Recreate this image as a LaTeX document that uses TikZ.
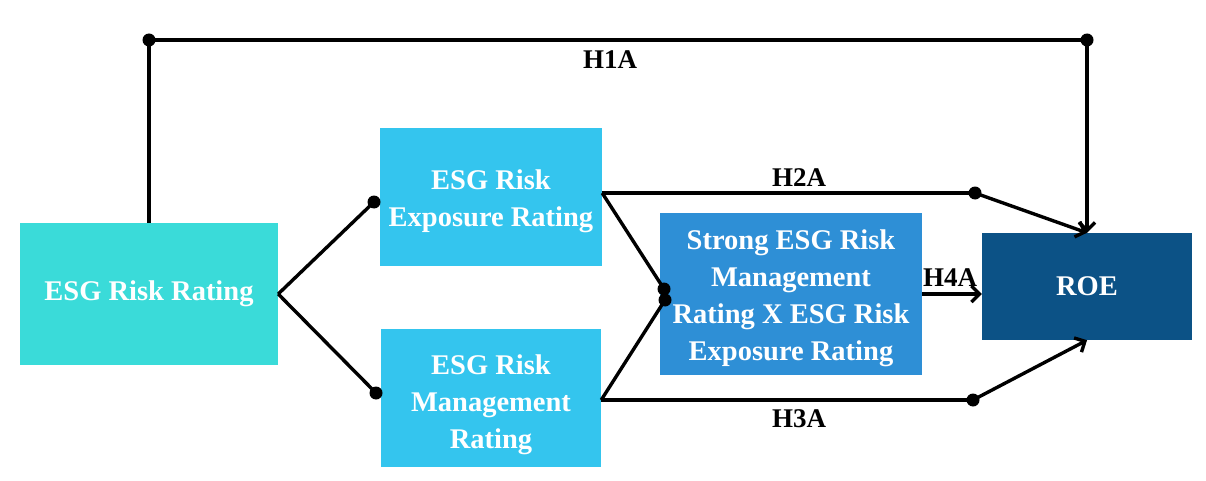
\documentclass[tikz,border=0pt]{standalone}
\usepackage{fontspec}
\setmainfont{Liberation Serif}
\usetikzlibrary{positioning,arrows.meta}
\definecolor{ratingturq}{HTML}{3ADBD9}
\definecolor{ratingsky}{HTML}{34C5EE}
\definecolor{ratingblue}{HTML}{2E8FD6}
\definecolor{roenavy}{HTML}{0C5286}

\begin{document}
\begin{tikzpicture}[x=1pt,y=1pt]
    \tikzstyle{every node}=[inner sep=0,font=\fontsize{28.5}{37}\selectfont\bfseries]
    \tikzstyle{box}=[rectangle,text=white,align=center]
    \tikzstyle{esg}=[box,fill=ratingturq,minimum width=258,minimum height=142]
    \tikzstyle{rate}=[box,fill=ratingsky,minimum width=222,minimum height=138]
    \tikzstyle{mix}=[box,fill=ratingblue,minimum width=262,minimum height=162]
    \tikzstyle{roe}=[box,fill=roenavy,minimum width=210,minimum height=107]
    \tikzstyle{dot}=[circle,fill=black,minimum size=13]
    \tikzstyle{hyp}=[font=\fontsize{27}{30}\selectfont\bfseries]
    \tikzstyle{link}=[line width=3.4,line join=round]
    \tikzstyle{tip}=[link,-{Straight Barb[length=8,width=16]}]

    \useasboundingbox (0,0) rectangle (1206,-481);

    % boxes
    \node[esg] (esg) at (149,-294) {ESG Risk Rating};
    \node[rate,text height=66] (expo) at (491,-197) {ESG Risk\\Exposure Rating};
    \node[rate,minimum width=220,text height=107] (mgmt) at (491,-398) {ESG Risk\\Management\\Rating};
    \node[mix,text height=140] (strong) at (791,-294) {Strong ESG Risk\\Management\\Rating X ESG Risk\\Exposure Rating};
    \node[roe] (roe) at (1087,-286.5) {ROE};

    % junction dots
    \node[dot] (d1) at (149,-40) {};
    \node[dot] (d2) at (1087,-40) {};
    \node[dot] (e1) at (374,-202) {};
    \node[dot] (m1) at (376,-393) {};
    \node[dot] (x1) at (664,-289) {};
    \node[dot] (x2) at (665,-300) {};
    \node[dot] (h2) at (975,-193) {};
    \node[dot] (h3) at (973,-400) {};

    % H1A
    \draw[link] (esg.north) -- (d1.center) -- (d2.center);
    \draw[tip] (d2.center) -- (roe.north);
    \node[hyp] (l1) at (610,-60) {H1A};

    % split
    \draw[link] (esg.east) -- (e1.center);
    \draw[link] (esg.east) -- (m1.center);

    % H2A
    \draw[link] (expo.east |- h2) -- (h2.center);
    \draw[tip] (h2.center) -- (roe.north);
    \draw[link] (expo.east |- h2) -- (x1.center);
    \node[hyp] (l2) at (799,-178) {H2A};

    % H3A
    \draw[link] (mgmt.east |- h3) -- (h3.center);
    \draw[tip] (h3.center) -- (roe.south);
    \draw[link] (mgmt.east |- h3) -- (x2.center);
    \node[hyp] (l3) at (799,-419) {H3A};

    % H4A
    \draw[tip] (strong.east) -- (strong.east -| roe.west);
    \node[hyp] (l4) at (950,-278) {H4A};
\end{tikzpicture}
\end{document}
